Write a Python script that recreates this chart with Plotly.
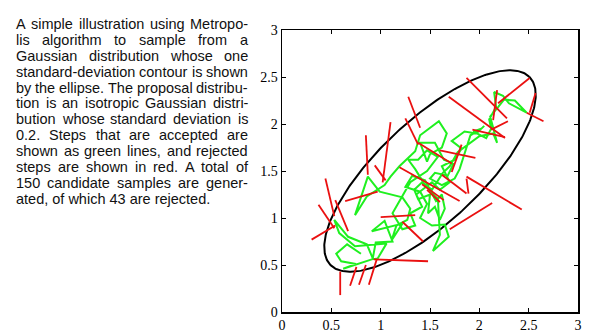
import numpy as np
import plotly.graph_objects as go

# Accepted Metropolis states, in order (green chain)
green_x = [0.80, 0.66, 0.55, 0.60, 0.75, 0.62, 0.91, 0.97, 1.06, 0.74, 0.58, 0.53,
           0.67, 0.86, 0.92, 0.95, 1.12, 1.04, 0.91, 1.22,
           1.11, 1.16, 1.27, 1.30, 1.22, 0.99, 0.87, 0.74,
           0.86, 0.94, 1.04, 1.10, 1.19, 1.35, 1.40, 1.59,
           1.67, 1.62, 1.50, 1.47, 1.40, 1.55, 1.64, 1.74,
           1.68, 1.55, 1.50, 1.62, 1.75, 1.80, 1.91, 2.02,
           1.94, 2.07, 2.12, 2.10, 2.17, 2.15, 2.24, 2.30,
           2.48, 2.36, 2.25, 2.19, 2.11, 2.18, 2.14, 2.00,
           1.88, 1.78, 1.70, 1.63, 1.52, 1.42, 1.34, 1.38,
           1.50, 1.48, 1.55, 1.60, 1.65, 1.62, 1.56, 1.45,
           1.32, 1.25, 1.40, 1.47, 1.40, 1.52, 1.65, 1.69,
           1.53, 1.60, 1.58, 1.45, 1.35, 1.28, 1.38, 1.47, 1.58,
           1.47, 1.30, 1.20, 1.12, 1.22, 1.35, 1.30, 1.42, 1.36,
           1.52, 1.60, 1.70, 1.62, 1.75, 1.82, 1.72, 1.85, 1.97, 2.05]
green_y = [0.62, 0.72, 0.62, 0.54, 0.51, 0.46, 0.56, 0.57, 0.73, 0.70, 0.84, 0.98,
           0.80, 0.72, 0.57, 0.74, 0.75, 0.97, 0.86, 0.94,
           0.76, 0.92, 0.98, 1.10, 1.22, 1.28, 1.44, 1.03,
           1.23, 1.28, 1.35, 1.44, 1.55, 1.71, 1.88, 2.03,
           1.90, 1.75, 1.68, 1.60, 1.80, 1.80, 1.62, 1.58,
           1.45, 1.48, 1.42, 1.35, 1.42, 1.52, 1.88, 1.95,
           1.92, 1.85, 1.95, 2.05, 2.18, 2.34, 2.30, 2.22,
           2.12, 2.25, 2.26, 2.18, 2.08, 1.80, 1.90, 1.87,
           1.78, 1.70, 1.55, 1.48, 1.30, 1.38, 1.30, 1.20,
           1.25, 1.05, 1.12, 0.98, 1.10, 1.25, 1.18, 1.40,
           1.45, 1.33, 1.28, 1.15, 1.00, 0.92, 0.93, 0.80,
           0.65, 0.82, 1.20, 1.35, 1.52, 1.62, 1.62, 1.72, 1.65,
           1.50, 1.38, 1.20, 1.05, 0.88, 0.92, 1.05, 1.12, 1.25,
           1.38, 1.30, 1.38, 1.55, 1.62, 1.74, 1.82, 1.92, 1.90, 1.98]

# Rejected proposals: from the current state (x0, y0) to the proposal (x1, y1)
red_x0 = [0.30, 0.37, 0.44, 0.54, 0.64, 0.85, 0.94, 1.10, 1.00, 1.22,
          1.28, 1.25, 1.19, 1.38, 1.42, 1.47, 1.62, 1.69, 1.87, 1.93,
          2.12, 2.14, 2.19, 2.48, 2.51, 1.87, 1.70, 1.82, 0.93, 0.59,
          0.755, 0.85, 0.96, 1.87, 1.60]
red_y0 = [0.77, 1.14, 1.42, 1.19, 1.18, 1.88, 1.56, 2.02, 1.01, 0.96,
          2.29, 2.06, 1.54, 1.80, 1.36, 1.30, 1.46, 2.29, 2.49, 1.94,
          1.94, 2.04, 2.22, 2.12, 2.12, 1.44, 0.88, 1.78, 0.56, 0.43,
          0.48, 0.50, 0.56, 1.42, 1.72]
red_x1 = [0.54, 0.53, 0.53, 0.67, 0.97, 0.87, 1.05, 1.02, 1.35, 1.43,
          1.40, 1.38, 1.80, 1.72, 1.64, 1.60, 1.87, 2.26, 2.28, 2.26,
          2.29, 2.18, 2.51, 2.65, 2.57, 2.43, 2.13, 1.72, 1.48, 0.59,
          0.69, 0.78, 0.88, 1.89, 1.96]
red_y1 = [0.92, 0.89, 1.02, 0.86, 1.28, 1.46, 1.40, 1.38, 1.03, 0.75,
          1.96, 1.78, 1.18, 1.58, 1.19, 1.17, 1.26, 1.85, 2.06, 1.86,
          2.03, 2.36, 2.49, 2.03, 2.33, 1.09, 1.16, 1.49, 0.54, 0.18,
          0.28, 0.29, 0.29, 1.26, 1.64]

# Target Gaussian: mean and one-standard-deviation contour
mean_xy = (1.5, 1.5)
sd_major = 1.42
sd_minor = 0.53
major_angle_deg = 45.0

tick_vals = [0, 0.5, 1, 1.5, 2, 2.5, 3]
tick_text = ["0", "0.5", "1", "1.5", "2", "2.5", "3"]

caption_lines = [
    "A simple illustration using Metropo-",
    "lis algorithm to sample from a",
    "Gaussian distribution whose one",
    "standard-deviation contour is shown",
    "by the ellipse. The proposal distribu-",
    "tion is an isotropic Gaussian distri-",
    "bution whose standard deviation is",
    "0.2.  Steps that are accepted are",
    "shown as green lines, and rejected",
    "steps are shown in red.  A total of",
    "150 candidate samples are gener-",
    "ated, of which 43 are rejected.",
]

# ---- figure geometry (pixels) ----
W, H = 598, 335
ML, MR, MT, MB = 282, 20, 30, 23
PW, PH = W - ML - MR, H - MT - MB

GREEN = "#1ff01f"
RED = "#ea1010"

fig = go.Figure()

# one-sigma ellipse
t = np.linspace(0, 2 * np.pi, 361)
th = np.deg2rad(major_angle_deg)
u, v = sd_major * np.cos(t), sd_minor * np.sin(t)
ex = mean_xy[0] + u * np.cos(th) - v * np.sin(th)
ey = mean_xy[1] + u * np.sin(th) + v * np.cos(th)
fig.add_trace(go.Scatter(x=ex, y=ey, mode="lines",
                         line=dict(color="black", width=2), hoverinfo="skip"))

# accepted steps
fig.add_trace(go.Scatter(x=green_x, y=green_y, mode="lines",
                         line=dict(color=GREEN, width=2), hoverinfo="skip"))

# rejected steps
rx, ry = [], []
for a, b, c, d in zip(red_x0, red_y0, red_x1, red_y1):
    rx += [a, c, None]
    ry += [b, d, None]
fig.add_trace(go.Scatter(x=rx, y=ry, mode="lines",
                         line=dict(color=RED, width=1.8), hoverinfo="skip"))

axis_common = dict(
    range=[0, 3], tickvals=tick_vals, ticktext=tick_text,
    ticks="inside", ticklen=4, tickwidth=1, tickcolor="black",
    showline=True, linecolor="black", linewidth=1.5, mirror="ticks",
    showgrid=False, zeroline=False, automargin=False, fixedrange=True,
    tickfont=dict(family="Liberation Serif", size=14, color="black"),
)

# ---- justified caption, placed word by word ----
CHAR_W = {" ": 278, "-": 333, ".": 278, ",": 278,
          "a": 556, "b": 556, "c": 500, "d": 556, "e": 556, "f": 278, "g": 556,
          "h": 556, "i": 222, "j": 222, "k": 500, "l": 222, "m": 833, "n": 556,
          "o": 556, "p": 556, "q": 556, "r": 333, "s": 500, "t": 278, "u": 556,
          "v": 500, "w": 722, "x": 500, "y": 500, "z": 500,
          "A": 667, "G": 778, "M": 833, "S": 667, "T": 611}
FS = 14.5
TXT_LEFT, TXT_RIGHT = 16.0, 248.0
BASE0, LEAD = 29.0, 15.9


def word_w(w):
    return sum(CHAR_W.get(c, 556) for c in w) * FS / 1000.0


def px_to_paper(px, py):
    return (px - ML) / PW, (H - MB - py) / PH


annotations = []
txt_font = dict(family="Liberation Sans", size=FS, color="#111111")
for i, line in enumerate(caption_lines):
    cy = BASE0 + i * LEAD - 0.3465 * FS
    words = line.split()
    if i == len(caption_lines) - 1:
        placements = [(TXT_LEFT, line)]
    else:
        widths = [word_w(w) for w in words]
        gap = (TXT_RIGHT - TXT_LEFT - sum(widths)) / (len(words) - 1)
        placements, x = [], TXT_LEFT
        for w, wd in zip(words, widths):
            placements.append((x, w))
            x += wd + gap
    for px, text in placements:
        xp, yp = px_to_paper(px, cy)
        annotations.append(dict(
            x=xp, y=yp, xref="paper", yref="paper", text=text,
            xanchor="left", yanchor="middle", showarrow=False,
            font=txt_font, borderpad=0, borderwidth=0))

fig.update_layout(
    width=W, height=H,
    margin=dict(l=ML, r=MR, t=MT, b=MB, pad=0),
    paper_bgcolor="white", plot_bgcolor="white",
    showlegend=False, template="none",
    xaxis=axis_common,
    yaxis=axis_common,
    annotations=annotations,
)

fig.write_html("out.html", config={"displayModeBar": False, "staticPlot": True})
